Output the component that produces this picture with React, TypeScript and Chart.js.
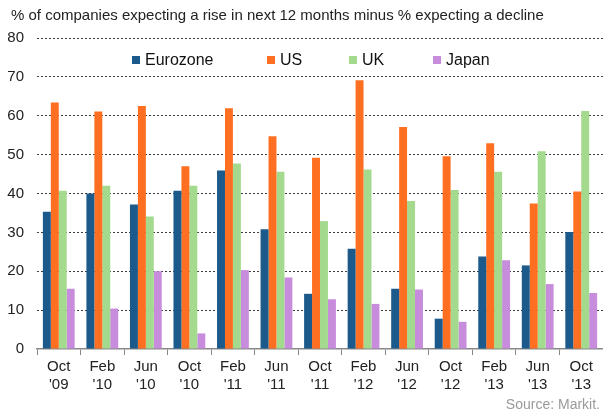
import React, { useEffect, useRef } from "react";
import { Chart, registerables } from "chart.js";

Chart.register(...registerables);

const categories: string[][] = [
  ["Oct", "'09"], ["Feb", "'10"], ["Jun", "'10"], ["Oct", "'10"], ["Feb", "'11"],
  ["Jun", "'11"], ["Oct", "'11"], ["Feb", "'12"], ["Jun", "'12"], ["Oct", "'12"],
  ["Feb", "'13"], ["Jun", "'13"], ["Oct", "'13"],
];

const eurozone = [35.3, 40.0, 37.2, 40.7, 45.9, 30.8, 14.2, 25.8, 15.5, 7.8, 23.8, 21.5, 30.1];
const us = [63.4, 61.1, 62.5, 47.0, 61.9, 54.7, 49.2, 69.1, 57.1, 49.6, 52.9, 37.4, 40.5];
const uk = [40.7, 42.0, 34.1, 42.0, 47.7, 45.6, 32.9, 46.2, 38.1, 40.9, 45.6, 50.9, 61.2];
const japan = [15.5, 10.4, 20.0, 4.0, 20.3, 18.4, 12.8, 11.6, 15.3, 7.0, 22.8, 16.7, 14.4];

const seriesNames = ["Eurozone", "US", "UK", "Japan"];
const seriesColors = ["#1B5A8B", "#FF6F21", "#A3DA8D", "#C78CDB"];

const titleText = "% of companies expecting a rise in next 12 months minus % expecting a decline";
const sourceText = "Source: Markit.";

const FONT = "'Liberation Sans', Arial, sans-serif";
const legendX = [132, 267, 349, 433];

const overlayPlugin = {
  id: "overlay",
  afterDraw(chart: any) {
    const ctx = chart.ctx as CanvasRenderingContext2D;
    ctx.save();
    ctx.font = `15px ${FONT}`;
    ctx.fillStyle = "#222";
    ctx.textAlign = "left";
    ctx.textBaseline = "alphabetic";
    ctx.fillText(titleText, 11, 20);
    chart.data.datasets.forEach((ds: any, i: number) => {
      const x = legendX[i];
      ctx.fillStyle = ds.backgroundColor;
      ctx.fillRect(x, 56, 8, 8);
      ctx.fillStyle = "#111";
      ctx.font = `16px ${FONT}`;
      ctx.fillText(ds.label, x + 13, 64.5);
    });
    ctx.font = `14px ${FONT}`;
    ctx.fillStyle = "#9a9a9a";
    ctx.textAlign = "right";
    ctx.fillText(sourceText, 600, 409);
    ctx.restore();
  },
};

export default function App() {
  const ref = useRef<HTMLCanvasElement | null>(null);
  useEffect(() => {
    if (!ref.current) return;
    const values = [eurozone, us, uk, japan];
    const chart = new Chart(ref.current, {
      type: "bar",
      data: {
        labels: categories,
        datasets: values.map((v, i) => ({
          label: seriesNames[i],
          data: v,
          backgroundColor: seriesColors[i],
          borderWidth: 0,
          categoryPercentage: 0.73,
          barPercentage: 1,
        })),
      },
      options: {
        animation: false,
        responsive: false,
        maintainAspectRatio: false,
        layout: { padding: { left: 7, top: 38, right: 0, bottom: 20 } },
        plugins: {
          legend: { display: false },
          title: { display: false },
          tooltip: { enabled: false },
        },
        scales: {
          x: {
            offset: true,
            grid: {
              display: true,
              offset: true,
              drawOnChartArea: false,
              drawTicks: true,
              tickLength: 6,
              color: "#888",
            },
            border: { display: true, color: "#888", width: 1.5 },
            ticks: {
              font: { family: FONT, size: 15 },
              color: "#222",
              padding: 3,
              maxRotation: 0,
              autoSkip: false,
            },
          },
          y: {
            min: 0,
            max: 80,
            afterFit: (scale: any) => {
              scale.width = 30;
            },
            grid: {
              drawTicks: false,
              color: (c: any) => (c.tick && c.tick.value === 0 ? "rgba(0,0,0,0)" : "#3a3a3a"),
              lineWidth: 1,
            },
            border: { display: false, dash: [2, 2] },
            ticks: {
              stepSize: 10,
              font: { family: FONT, size: 15 },
              color: "#222",
              padding: 13,
            },
          },
        },
      },
      plugins: [overlayPlugin],
    });
    return () => chart.destroy();
  }, []);
  return (
    <div style={{ position: "fixed", left: 0, top: 0, width: 603, height: 417, background: "#fff" }}>
      <canvas ref={ref} width={603} height={417} style={{ display: "block" }} />
    </div>
  );
}
